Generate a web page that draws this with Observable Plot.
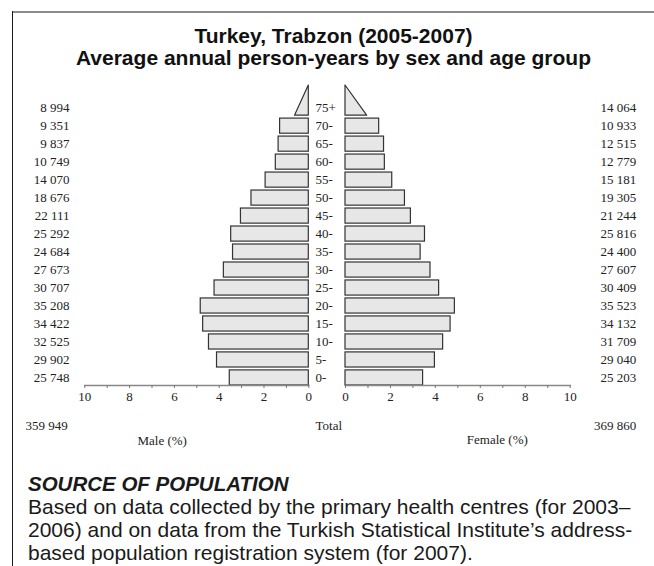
<!DOCTYPE html>
<html><head><meta charset="utf-8">
<script src="https://cdn.jsdelivr.net/npm/d3@7"></script>
<script src="https://cdn.jsdelivr.net/npm/@observablehq/plot@0.6"></script>
<style>
html,body{margin:0;padding:0;background:#fff;}
#page{position:relative;width:654px;height:566px;overflow:hidden;background:#fff;}
.topline{position:absolute;left:13px;top:11px;width:641px;height:0;border-top:2px solid #8c8c8c;}
.leftline{position:absolute;left:12px;top:11px;width:0;height:560px;border-left:1.6px solid #1a1a1a;}
#title{position:absolute;left:13px;top:24.7px;width:641px;text-align:center;font-family:"Liberation Sans",Arial,sans-serif;font-weight:bold;font-size:21px;line-height:22px;color:#111;white-space:nowrap;}
#chart{position:absolute;left:0;top:80px;width:654px;height:380px;}
#chart svg{position:absolute;top:0;}
#chart svg text{font-size:13px;}
#source{position:absolute;left:28px;top:472px;font-family:"Liberation Sans",Arial,sans-serif;font-size:21px;line-height:23px;color:#1a1a1a;white-space:nowrap;}
#source .h{font-weight:bold;font-style:italic;font-size:20.5px;}
</style></head><body>
<div id="page">
<div class="topline"></div><div class="leftline"></div>
<div id="title">Turkey, Trabzon (2005-2007)<br>Average annual person-years by sex and age group</div>
<div id="chart"></div>
<div id="source"><div class="h">SOURCE OF POPULATION</div>Based on data collected by the primary health centres (for 2003–<br>2006) and on data from the Turkish Statistical Institute’s address-<br>based population registration system (for 2007).</div>
</div>
<script>
const ages = ["0-","5-","10-","15-","20-","25-","30-","35-","40-","45-","50-","55-","60-","65-","70-","75+"];
const maleCounts = [25748, 29902, 32525, 34422, 35208, 30707, 27673, 24684, 25292, 22111, 18676, 14070, 10749, 9837, 9351, 8994];
const femaleCounts = [25203, 29040, 31709, 34132, 35523, 30409, 27607, 24400, 25816, 21244, 19305, 15181, 12779, 12515, 10933, 14064];
const maleTotal = 359949;
const femaleTotal = 369860;
const xTicks = [0,1,2,3,4,5,6,7,8,9,10];

const grand = maleTotal + femaleTotal;
const fmt = d3.formatLocale({decimal:".", thousands:" ", grouping:[3], currency:["",""]}).format(",");
const hb = 0.42; // half bar height in row units
const tip = ages.length - 1 - hb + 4 * hb;
function rows(counts) {
  return counts.map((c, i) => ({age: ages[i], i, count: c, pct: c / grand * 100}));
}
const maleRows = rows(maleCounts), femaleRows = rows(femaleCounts);
const last = ages.length - 1;
function tri(r) {
  const p = r[last].pct;
  return [{y: last - hb, x1: 0, x2: p / 2}, {y: tip, x1: 0, x2: 0}];
}
const font = "'Liberation Serif','Times New Roman',serif";
const common = {
  height: 380, marginTop: 5, marginBottom: 75,
  y: {domain: [-hb, tip], axis: null},
  style: {fontFamily: font, fontSize: "13px", color: "#222", background: "transparent", overflow: "visible"}
};
const barStyle = {fill: "#e7e7e7", stroke: "#333", strokeWidth: 1.2};
const axisOpts = {ticks: xTicks, tickSize: 3, tickPadding: 3, stroke: "#777", fill: "#222", tickFormat: d => d % 2 ? "" : d, label: null, fontSize: 13};

const male = Plot.plot({
  ...common, width: 324, marginLeft: 84.3, marginRight: 15.7,
  x: {domain: [0, 10], reverse: true},
  marks: [
    Plot.rectX(maleRows.slice(0, last), {x1: 0, x2: "pct", y1: d => d.i - hb, y2: d => d.i + hb, ...barStyle}),
    Plot.areaX(tri(maleRows), {y: "y", x1: "x1", x2: "x2", ...barStyle}),
    Plot.frame({anchor: "bottom", stroke: "#888", strokeWidth: 1.5}),
    Plot.axisX(axisOpts),
    Plot.text(maleRows, {y: "i", text: d => fmt(d.count), frameAnchor: "left", dx: -15.3, textAnchor: "end", fill: "#222", fontSize: 13}),
    Plot.text([fmt(maleTotal)], {frameAnchor: "bottom-left", dx: -17, dy: 44, textAnchor: "end", fill: "#222", fontSize: 13}),
    Plot.text(["Male (%)"], {frameAnchor: "bottom-left", dx: 77.4, dy: 59, textAnchor: "middle", fill: "#222", fontSize: 13})
  ]
});
const female = Plot.plot({
  ...common, width: 330, marginLeft: 21, marginRight: 84.3,
  x: {domain: [0, 10]},
  marks: [
    Plot.rectX(femaleRows.slice(0, last), {x1: 0, x2: "pct", y1: d => d.i - hb, y2: d => d.i + hb, ...barStyle}),
    Plot.areaX(tri(femaleRows), {y: "y", x1: "x1", x2: "x2", ...barStyle}),
    Plot.frame({anchor: "bottom", stroke: "#888", strokeWidth: 1.5}),
    Plot.axisX(axisOpts),
    Plot.text(femaleRows, {y: "i", text: "age", frameAnchor: "left", dx: -30, textAnchor: "start", fill: "#222", fontSize: 13}),
    Plot.text(femaleRows, {y: "i", text: d => fmt(d.count), frameAnchor: "right", dx: 66, textAnchor: "end", fill: "#222", fontSize: 13}),
    Plot.text(["Total"], {frameAnchor: "bottom-left", dx: -30, dy: 44, textAnchor: "start", fill: "#222", fontSize: 13}),
    Plot.text([fmt(femaleTotal)], {frameAnchor: "bottom-right", dx: 66, dy: 44, textAnchor: "end", fill: "#222", fontSize: 13}),
    Plot.text(["Female (%)"], {frameAnchor: "bottom-left", dx: 151.8, dy: 58, textAnchor: "middle", fill: "#222", fontSize: 13})
  ]
});
male.style.left = "0px";
female.style.left = "324px";
document.getElementById("chart").append(male, female);
</script>
</body></html>
